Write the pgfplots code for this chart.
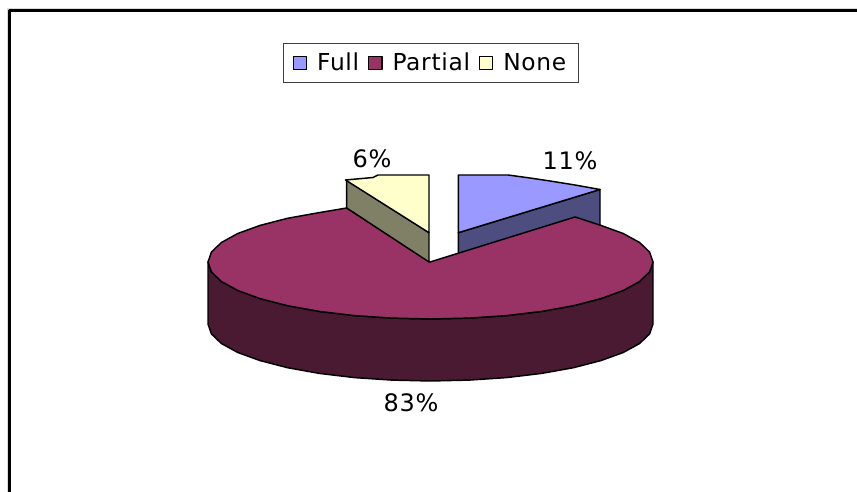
\documentclass[border=0pt]{standalone}
\usepackage{pgfplots}
\pgfplotsset{compat=1.18}
\usepackage{fontspec}
\setmainfont{DejaVu Sans}
\newfontfamily\lgfont[LetterSpace=3]{DejaVu Sans}
\newfontfamily\lbfont[LetterSpace=3]{DejaVu Sans}
\definecolor{cfull}{HTML}{9999FF}
\definecolor{cfulld}{HTML}{4D4D80}
\definecolor{cpart}{HTML}{993366}
\definecolor{cpartd}{HTML}{4A1A33}
\definecolor{cnone}{HTML}{FFFFCC}
\definecolor{cnoned}{HTML}{808066}
\begin{document}
\begin{tikzpicture}
\path[use as bounding box] (0,0) rectangle (642.75pt,369pt);
\begin{axis}[
  at={(0,0)},anchor=south west,
  width=642.75pt,height=369pt,scale only axis,
  xmin=0,xmax=857,ymin=0,ymax=492,y dir=reverse,
  axis lines=none,
  legend columns=3,
  legend style={at={(axis cs:282.7,43.3)},anchor=north west,draw=black!75,line width=0.7pt,
    font=\fontsize{17.5}{19}\lgfont,inner xsep=7pt,inner ysep=5pt,
    /tikz/every odd column/.style={column sep=5.5pt},
    /tikz/every even column/.style={column sep=4.5pt},
    cells={anchor=west}},
  legend image code/.code={\draw[#1,line width=1pt] (0pt,-5pt) rectangle (10pt,5pt);},
  every axis plot/.append style={draw=black,line width=1.1pt,line join=round},
]
% frame
\addplot[forget plot,draw=black!15,line width=0.75pt] coordinates {(7.4,492)(7.4,8.4)(857,8.4)};
\addplot[forget plot,draw=black,line width=1.9pt] coordinates {(9.3,492)(9.3,10.3)(857,10.3)};
% Full 11%
\addplot[forget plot,fill=cfulld] coordinates {(458.3,232.7)(600,189.5)(600,240)(458.3,260)} -- cycle;
\addplot[fill=cfull] coordinates {(458.3,175)(508,175)(530,178)(550,181)(575,185)(600,189.5)(458.3,232.7)} -- cycle;
\addlegendentry{Full}
% Partial 83%
\addplot[forget plot,fill=cpartd] coordinates {(208,262)(211.4,271.9)(221.4,281.5)(237.8,290.5)(260.1,298.6)(287.5,305.7)(319.25,311.4)(354.4,315.6)(391.9,318.1)(430.5,319)(469.1,318.1)(506.6,315.6)(541.75,311.4)(573.5,305.7)(600.9,298.6)(623.2,290.5)(639.6,281.5)(649.6,271.9)(653,262)(653,324)(649.6,333.9)(639.6,343.5)(623.2,352.5)(600.9,360.6)(573.5,367.7)(541.75,373.4)(506.6,377.6)(469.1,380.1)(430.5,381)(391.9,380.1)(354.4,377.6)(319.25,373.4)(287.5,367.7)(260.1,360.6)(237.8,352.5)(221.4,343.5)(211.4,333.9)(208,324)} -- cycle;
\addplot[fill=cpart] coordinates {(430,262)(346.7,208)(319.25,212.6)(287.5,218.3)(260.1,225.4)(237.8,233.5)(221.4,242.5)(211.4,252.1)(208,262)(211.4,271.9)(221.4,281.5)(237.8,290.5)(260.1,298.6)(287.5,305.7)(319.25,311.4)(354.4,315.6)(391.9,318.1)(430.5,319)(469.1,318.1)(506.6,315.6)(541.75,311.4)(573.5,305.7)(600.9,298.6)(623.2,290.5)(639.6,281.5)(649.6,271.9)(653,262)(649.6,252.1)(639.6,242.5)(623.2,233.5)(600.9,225.4)(575,217)} -- cycle;
\addlegendentry{Partial}
% None 6%
\addplot[forget plot,fill=cnoned] coordinates {(346.7,180)(429,232.7)(429,262)(346.7,208)} -- cycle;
\addplot[fill=cnone] coordinates {(429,175)(378,175)(373,177.5)(345.5,180)(429,232.7)} -- cycle;
\addlegendentry{None}
\node[font=\fontsize{18}{20}\lbfont] at (axis cs:372,159) {6\%};
\node[font=\fontsize{18}{20}\lbfont] at (axis cs:570,161) {11\%};
\node[font=\fontsize{18}{20}\lbfont] at (axis cs:411,403) {83\%};
\end{axis}
\end{tikzpicture}
\end{document}
